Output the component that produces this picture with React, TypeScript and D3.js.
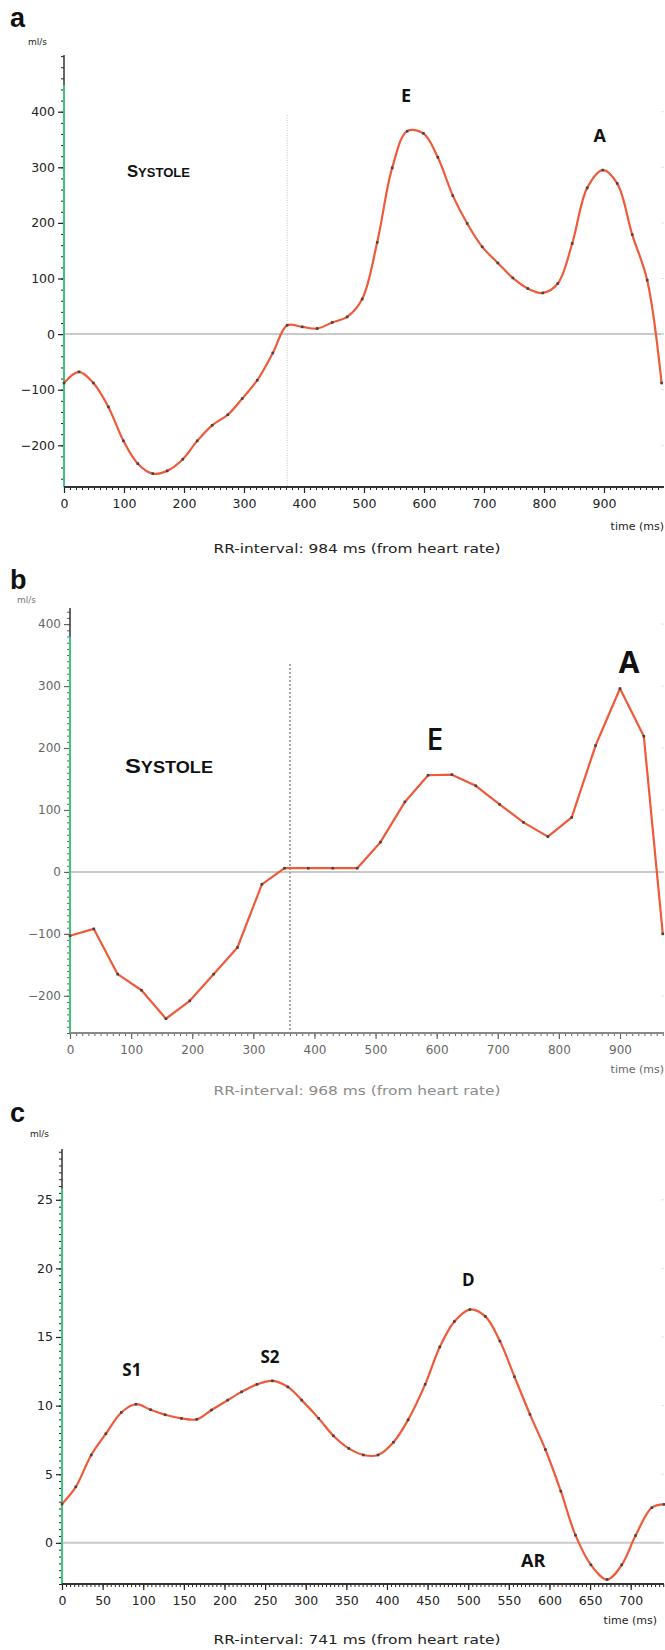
import React, { useEffect, useRef } from "react";
import * as d3 from "d3";

// panel a: flow, RR 984 ms
const timeA = [0, 25, 49, 74, 99, 123, 148, 172, 198, 222, 247, 273, 297, 322, 348, 372, 397, 422, 447, 472, 497, 522, 547, 572, 599, 623, 648, 672, 697, 723, 748, 773, 798, 823, 847, 872, 898, 922, 947, 972, 996];
const flowA = [-88, -68, -88, -131, -192, -233, -251, -246, -225, -192, -164, -145, -116, -83, -34, 16, 13, 10, 21, 31, 63, 165, 299, 365, 361, 318, 249, 199, 157, 128, 101, 82, 74, 91, 163, 263, 295, 271, 179, 97, -88];

// panel b: flow, RR 968 ms
const timeB = [0, 39, 78, 117, 157, 196, 235, 274, 314, 351, 390, 430, 470, 508, 548, 586, 625, 664, 703, 742, 782, 821, 860, 900, 939, 970];
const flowB = [-103, -92, -165, -191, -237, -208, -165, -122, -20, 6, 6, 6, 6, 48, 113, 156, 157, 139, 109, 80, 57, 88, 204, 296, 219, -100];

// panel c: flow, RR 741 ms
const timeC = [0, 17, 36, 54, 73, 91, 109, 127, 147, 166, 184, 204, 221, 240, 259, 278, 295, 316, 334, 353, 371, 389, 408, 426, 447, 465, 483, 502, 521, 539, 557, 576, 595, 614, 632, 651, 671, 689, 706, 726, 741];
const flowC = [2.83, 4.08, 6.4, 7.95, 9.5, 10.1, 9.7, 9.33, 9.07, 9.0, 9.68, 10.4, 11.0, 11.55, 11.8, 11.36, 10.4, 9.07, 7.8, 6.88, 6.4, 6.4, 7.33, 8.96, 11.55, 14.27, 16.13, 17.0, 16.5, 14.7, 12.1, 9.36, 6.8, 3.76, 0.56, -1.6, -2.67, -1.6, 0.53, 2.56, 2.8];

const yTicksA = [-200, -100, 0, 100, 200, 300, 400];
const xTicksA = [0, 100, 200, 300, 400, 500, 600, 700, 800, 900];
const yTicksB = [-200, -100, 0, 100, 200, 300, 400];
const xTicksB = [0, 100, 200, 300, 400, 500, 600, 700, 800, 900];
const yTicksC = [0, 5, 10, 15, 20, 25];
const xTicksC = [0, 50, 100, 150, 200, 250, 300, 350, 400, 450, 500, 550, 600, 650, 700];

const peaksA = [{ label: "E", t: 570 }, { label: "A", t: 893 }];
const peaksB = [{ label: "E", t: 597 }, { label: "A", t: 915 }];
const peaksC = [{ label: "S1", t: 86 }, { label: "S2", t: 256 }, { label: "D", t: 500 }, { label: "AR", t: 580 }];

const panels = [
  {
    letter: "a", letterY: 27, unitX: 28, unitY: 45,
    time: timeA, flow: flowA, yTicks: yTicksA, xTicks: xTicksA,
    xDomain: [0, 1000], xRange: [64, 664], yDomain: [-275, 502], yRange: [487, 55],
    yMinor: 20, xMinor: 10, green: 448, divider: 372, dividerTop: 115,
    dividerStyle: { color: "#c4c4c4", width: 1, dash: "1,1.5" },
    curve: d3.curveCatmullRom, tickColor: "#222", tickSize: 12.5,
    systole: { x: 127, y: 177, big: 16, small: 12.5, len: 63 },
    peaks: peaksA, peakY: [102, 142], peakSize: [18, 18], peakWeight: ["bold", "bold"],
    timeY: 530, timeX: 664, rrY: 553, rrText: "RR-interval: 984 ms (from heart rate)", rrColor: "#222", rrLen: 287,
  },
  {
    letter: "b", letterY: 589, unitX: 17, unitY: 603,
    time: timeB, flow: flowB, yTicks: yTicksB, xTicks: xTicksB,
    xDomain: [0, 972], xRange: [70, 664], yDomain: [-260, 426], yRange: [1033, 608],
    yMinor: 10, xMinor: 10, green: 380, divider: 360, dividerTop: 664,
    dividerStyle: { color: "#a8a8a8", width: 2, dash: "2,2" },
    curve: d3.curveLinear, tickColor: "#666", tickSize: 12,
    systole: { x: 125, y: 773, big: 21, small: 16, len: 88 },
    peaks: peaksB, peakY: [750, 673], peakSize: [30, 30], peakWeight: ["600", "bold"],
    timeY: 1073, timeX: 664, rrY: 1095, rrText: "RR-interval: 968 ms (from heart rate)", rrColor: "#8a8a8a", rrLen: 287,
  },
  {
    letter: "c", letterY: 1122, unitX: 30, unitY: 1137,
    time: timeC, flow: flowC, yTicks: yTicksC, xTicks: xTicksC,
    xDomain: [0, 741], xRange: [62, 664], yDomain: [-3, 28.7], yRange: [1584, 1149],
    yMinor: 0.5, xMinor: 5, green: 25.8, divider: null, dividerTop: 0,
    dividerStyle: null,
    curve: d3.curveCatmullRom, tickColor: "#222", tickSize: 12.5,
    systole: null,
    peaks: peaksC, peakY: [1376, 1363, 1286, 1567], peakSize: [17, 17, 17, 18], peakWeight: ["bold", "bold", "bold", "bold"],
    timeY: 1624, timeX: 657, rrY: 1644, rrText: "RR-interval: 741 ms (from heart rate)", rrColor: "#222", rrLen: 287,
  },
];

const tickFont = "'DejaVu Sans', Verdana, sans-serif";
const labelFont = "'Open Sans', 'Liberation Sans', sans-serif";

const App = () => {
  const ref = useRef<SVGSVGElement>(null);

  useEffect(() => {
    const svg = d3.select(ref.current);
    svg.selectAll("*").remove();
    svg.append("rect").attr("width", 665).attr("height", 1650).attr("fill", "#fff");

    panels.forEach((p) => {
      const x = d3.scaleLinear().domain(p.xDomain).range(p.xRange);
      const y = d3.scaleLinear().domain(p.yDomain).range(p.yRange);
      const g = svg.append("g");
      const x0 = p.xRange[0], x1 = p.xRange[1];
      const yb = p.yRange[0], yt = p.yRange[1];

      // zero line
      g.append("line")
        .attr("x1", x0).attr("x2", x1)
        .attr("y1", y(0)).attr("y2", y(0))
        .attr("stroke", "#c9c9c9").attr("stroke-width", 2);

      // faint marks at right edge
      p.yTicks.forEach((v) => {
        g.append("line")
          .attr("x1", x1 - 3).attr("x2", x1)
          .attr("y1", y(v)).attr("y2", y(v))
          .attr("stroke", "#e2e2e2").attr("stroke-width", 1);
      });

      // systole / diastole divider
      if (p.divider !== null && p.dividerStyle) {
        g.append("line")
          .attr("x1", x(p.divider)).attr("x2", x(p.divider))
          .attr("y1", p.dividerTop).attr("y2", yb)
          .attr("stroke", p.dividerStyle.color)
          .attr("stroke-width", p.dividerStyle.width)
          .attr("stroke-dasharray", p.dividerStyle.dash);
      }

      // y axis: major and minor ticks
      const minorY = d3.range(Math.ceil(p.yDomain[0] / p.yMinor) * p.yMinor, p.yDomain[1], p.yMinor);
      g.append("g")
        .attr("transform", `translate(${x0},0)`)
        .call(d3.axisLeft(y).tickValues(minorY).tickSize(3).tickFormat(() => ""))
        .call((s) => s.select(".domain").remove())
        .selectAll("line").attr("stroke", p.tickColor);
      const yAx = g.append("g")
        .attr("transform", `translate(${x0},0)`)
        .call(d3.axisLeft(y).tickValues(p.yTicks).tickSize(6).tickPadding(3).tickFormat(d3.format("d")));
      yAx.select(".domain").remove();
      yAx.selectAll("line").attr("stroke", p.tickColor).attr("stroke-width", 1.2);
      yAx.selectAll("text")
        .attr("fill", p.tickColor)
        .style("font-family", tickFont)
        .style("font-size", `${p.tickSize}px`);

      g.append("line")
        .attr("x1", x0).attr("x2", x0).attr("y1", yt).attr("y2", yb)
        .attr("stroke", "#333").attr("stroke-width", 1.5);
      g.append("line")
        .attr("x1", x0).attr("x2", x0).attr("y1", y(p.green)).attr("y2", yb)
        .attr("stroke", "#3cc47c").attr("stroke-width", 2);

      // x axis
      const minorX = d3.range(p.xDomain[0], p.xDomain[1], p.xMinor);
      g.append("g")
        .attr("transform", `translate(0,${yb})`)
        .call(d3.axisBottom(x).tickValues(minorX).tickSize(3).tickFormat(() => ""))
        .call((s) => s.select(".domain").remove())
        .selectAll("line").attr("stroke", p.tickColor);
      const xAx = g.append("g")
        .attr("transform", `translate(0,${yb})`)
        .call(d3.axisBottom(x).tickValues(p.xTicks).tickSize(6).tickPadding(6).tickFormat(d3.format("d")));
      xAx.select(".domain").remove();
      xAx.selectAll("line").attr("stroke", p.tickColor).attr("stroke-width", 1.2);
      xAx.selectAll("text")
        .attr("fill", p.tickColor)
        .style("font-family", tickFont)
        .style("font-size", `${p.tickSize}px`);
      g.append("line")
        .attr("x1", x0).attr("x2", x1).attr("y1", yb).attr("y2", yb)
        .attr("stroke", p.tickColor === "#666" ? "#888" : "#333").attr("stroke-width", 2);

      // flow curve
      const pts = p.time.map((t, i) => [t, p.flow[i]] as [number, number]);
      const line = d3.line<[number, number]>()
        .x((d) => x(d[0]))
        .y((d) => y(d[1]))
        .curve(p.curve);
      g.append("path")
        .attr("d", line(pts) || "")
        .attr("fill", "none")
        .attr("stroke", "#ef5a3a")
        .attr("stroke-width", 2.2)
        .attr("stroke-linejoin", "round");
      g.selectAll("rect.pt")
        .data(pts)
        .join("rect")
        .attr("class", "pt")
        .attr("x", (d) => x(d[0]) - 1.3)
        .attr("y", (d) => y(d[1]) - 1.3)
        .attr("width", 2.6)
        .attr("height", 2.6)
        .attr("fill", "#444");

      // panel letter and unit
      svg.append("text")
        .attr("x", 10).attr("y", p.letterY)
        .style("font-family", "'Liberation Sans', Arial, sans-serif")
        .style("font-weight", "bold").style("font-size", "27px")
        .attr("fill", "#111")
        .text(p.letter);
      svg.append("text")
        .attr("x", p.unitX).attr("y", p.unitY)
        .style("font-family", tickFont).style("font-size", "9px")
        .attr("fill", p.tickColor === "#666" ? "#777" : "#222")
        .text("ml/s");

      // systole label in small caps
      if (p.systole) {
        const s = svg.append("text")
          .attr("x", p.systole.x).attr("y", p.systole.y)
          .attr("textLength", p.systole.len).attr("lengthAdjust", "spacingAndGlyphs")
          .style("font-family", "'Liberation Sans', Arial, sans-serif")
          .style("font-weight", "bold")
          .attr("fill", "#111");
        s.append("tspan").style("font-size", `${p.systole.big}px`).text("S");
        s.append("tspan").style("font-size", `${p.systole.small}px`).text("YSTOLE");
      }

      // wave labels
      p.peaks.forEach((pk, i) => {
        svg.append("text")
          .attr("x", x(pk.t)).attr("y", p.peakY[i])
          .attr("text-anchor", "middle")
          .style("font-family", labelFont)
          .style("font-weight", p.peakWeight[i])
          .style("font-size", `${p.peakSize[i]}px`)
          .attr("fill", "#111")
          .text(pk.label);
      });

      svg.append("text")
        .attr("x", p.timeX).attr("y", p.timeY)
        .attr("text-anchor", "end")
        .style("font-family", tickFont).style("font-size", "11px")
        .attr("fill", p.tickColor)
        .text("time (ms)");
      svg.append("text")
        .attr("x", 357).attr("y", p.rrY)
        .attr("text-anchor", "middle")
        .attr("textLength", p.rrLen).attr("lengthAdjust", "spacingAndGlyphs")
        .style("font-family", tickFont).style("font-size", "13px")
        .attr("fill", p.rrColor)
        .text(p.rrText);
    });
  }, []);

  return (
    <svg
      ref={ref}
      width={665}
      height={1650}
      style={{ position: "absolute", left: 0, top: 0 }}
    />
  );
};

export default App;
